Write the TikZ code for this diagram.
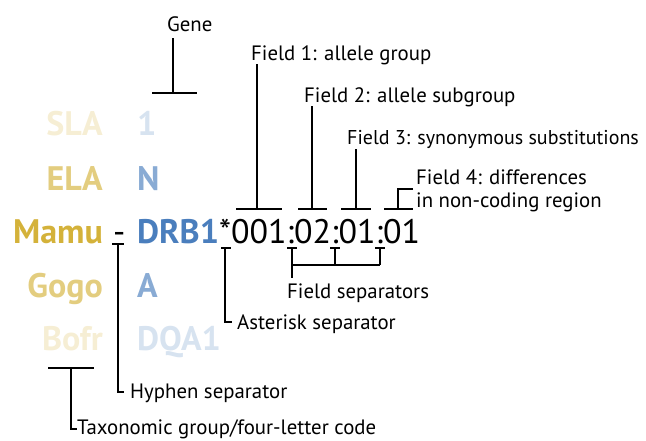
\documentclass[tikz,border=0pt]{standalone}
\usepackage{fontspec}
\setmainfont{PT Sans}
\definecolor{gold}{RGB}{212,178,58}
\definecolor{hblue}{RGB}{74,126,189}
\tikzset{
  lab/.style={font=\fontsize{20.8}{24}\selectfont, inner sep=0pt, anchor=base west},
  labn/.style={lab, font=\fontsize{20}{24}\selectfont},
  gn/.style={font=\bfseries\fontsize{34}{36}\selectfont, inner sep=0pt},
  sp/.style={gn, anchor=base east},
  gc/.style={gn, anchor=base west},
  allele/.style={font=\fontsize{34}{36}\selectfont, inner sep=0pt, anchor=base west},
  br/.style={line width=2pt},
}
\begin{document}
\begin{tikzpicture}[x=1pt,y=-1pt]
\useasboundingbox (0,0) rectangle (646,440);
% species column
\node[sp, text=gold!22] (sla) at (103,135) {SLA};
\node[sp, text=gold!65] (ela) at (103,190) {ELA};
\node[sp, text=gold] (mamu) at (103,243) {Mamu};
\node[sp, text=gold!65] (gogo) at (103,297) {Gogo};
\node[sp, text=gold!22] (bofr) at (103,350) {Bofr};
% gene column
\node[gc, text=hblue!22] (g1) at (137,135) {1};
\node[gc, text=hblue!65] (gn) at (137,190) {N};
\node[gc, text=hblue] (drb) at (137,243) {DRB1};
\node[gc, text=hblue!65] (ga) at (137,297) {A};
\node[gc, text=hblue!22] (dqa) at (137,350) {DQA1};
% hyphen and allele
\node[allele] (hy) at (113,243) {-};
\node[allele] (al) at (219,243) {*001:02:01:01};
% labels
\node[lab] (gene) at (167,31) {Gene};
\node[lab] (f1) at (251,60) {Field 1: allele group};
\node[lab] (f2) at (304,102) {Field 2: allele subgroup};
\node[labn] (f3) at (347,144) {Field 3: synonymous substitutions};
\node[lab] (f4a) at (416,184) {Field 4: differences};
\node[lab] (f4b) at (416,207) {in non-coding region};
\node[lab] (fs) at (287,298) {Field separators};
\node[lab] (as) at (237,329) {Asterisk separator};
\node[lab] (hs) at (130,398) {Hyphen separator};
\node[lab] (tx) at (77,434) {Taxonomic group/four-letter code};
% gene bracket
\coordinate (genetop) at (173,38);
\draw[br] (152,93) -- (197,93);
\draw[br] (genetop) -- (173,93);
% field 1-3
\draw[br] (236,209) -- (282,209);
\draw[br] (257,64) -- (257,209);
\draw[br] (298,209) -- (327,209);
\draw[br] (312,106) -- (312,209);
\draw[br] (341,209) -- (371,209);
\draw[br] (356,149) -- (356,209);
% field 4
\draw[br] (384,209) -- (413,209);
\draw[br] (413,189) -- (398,189) -- (398,209);
% field separators
\draw[br] (287,248) -- (297,248);
\draw[br] (330,248) -- (340,248);
\draw[br] (375,248) -- (385,248);
\draw[br] (292,248) -- (292,278);
\draw[br] (335,248) -- (335,265);
\draw[br] (380,248) -- (380,265);
\draw[br] (292,265) -- (380,265);
% asterisk
\draw[br] (221,248) -- (231,248);
\draw[br] (225,248) -- (225,322) -- (232,322);
% hyphen
\draw[br] (112,244) -- (124,244);
\draw[br] (118,244) -- (118,392) -- (124,392);
% taxonomic
\draw[br] (48,368) -- (94,368);
\draw[br] (71,368) -- (71,429) -- (77,429);
\end{tikzpicture}
\end{document}
